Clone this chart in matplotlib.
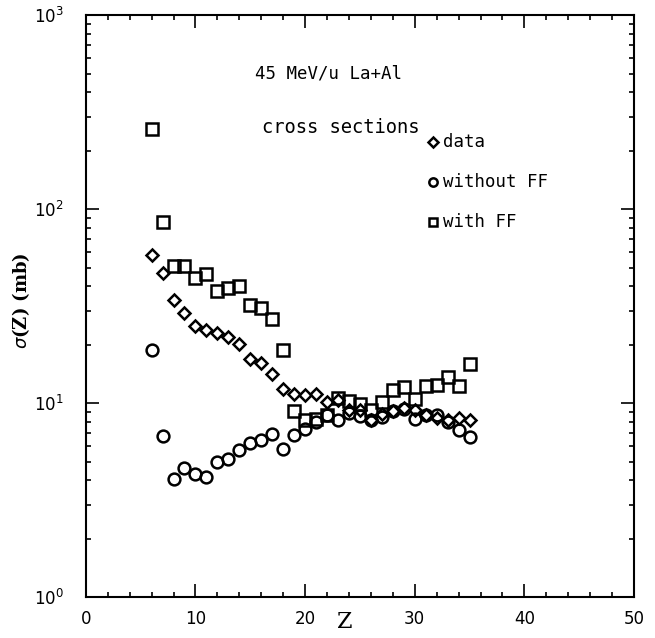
# Fragment cross sections, 45 MeV/u La+Al
import numpy as np
import matplotlib
matplotlib.use("Agg")
import matplotlib.pyplot as plt
from matplotlib.ticker import MultipleLocator, LogLocator

# charge of fragment
Z = np.arange(6, 36)

# measured cross sections (mb)
sig_data = [57.8, 47.1, 34.0, 29.1, 24.9, 23.9, 23.0, 21.9, 20.1, 17.0,
            16.1, 14.1, 11.9, 11.1, 11.0, 11.1, 10.2, 10.4, 9.2, 9.2,
            8.2, 8.8, 9.1, 9.5, 9.2, 8.7, 8.4, 8.2, 8.4, 8.2]

# calculation without fission fragments
sig_noff = [18.7, 6.8, 4.06, 4.62, 4.34, 4.17, 4.97, 5.14, 5.77, 6.25,
            6.46, 6.92, 5.84, 6.88, 7.36, 7.98, 8.65, 8.22, 8.91, 8.58,
            8.15, 8.53, 9.12, 9.33, 8.25, 8.73, 8.71, 7.99, 7.25, 6.73]

# calculation with fission fragments
sig_ff = [258, 86.2, 51.0, 50.8, 44.0, 46.5, 37.9, 39.2, 40.0, 32.2,
          31.0, 27.1, 18.9, 9.15, 8.2, 8.3, 8.7, 10.7, 10.3, 9.9,
          9.2, 10.2, 11.7, 12.1, 10.5, 12.2, 12.4, 13.6, 12.2, 16.0]

fig = plt.figure(figsize=(6.55, 6.38), dpi=100)
ax = fig.add_axes([0.131, 0.064, 0.837, 0.912])

mk = dict(linestyle="none", markerfacecolor="none", markeredgecolor="black",
          markeredgewidth=1.8)
ax.plot(Z, sig_ff, marker="s", markersize=8.5, **mk)
ax.plot(Z, sig_noff, marker="o", markersize=8.5, **mk)
ax.plot(Z, sig_data, marker="D", markersize=6.5, **mk)

ax.set_yscale("log")
ax.set_xlim(0, 50)
ax.set_ylim(1, 1000)

ax.xaxis.set_major_locator(MultipleLocator(10))
ax.xaxis.set_minor_locator(MultipleLocator(2))
ax.yaxis.set_major_locator(LogLocator(base=10))
ax.yaxis.set_minor_locator(LogLocator(base=10, subs=np.arange(2, 10)))

ax.tick_params(which="both", direction="in", top=True, right=True,
               width=1.2, labelsize=12)
ax.tick_params(which="major", length=9.5)
ax.tick_params(which="minor", length=3.5)
ax.tick_params(axis="x", pad=9)
ax.tick_params(axis="y", pad=16)
for s in ax.spines.values():
    s.set_linewidth(1.5)

ax.set_xlabel("Z", fontsize=16, family="DejaVu Serif")
ax.xaxis.set_label_coords(0.473, -0.024)
ax.set_ylabel(r"$\sigma$(Z) (mb)", fontsize=13, family="DejaVu Serif",
              fontweight="bold")
ax.yaxis.set_label_coords(-0.098, 0.51)

mono = "DejaVu Sans Mono"
ax.text(15.4, 500, "45 MeV/u La+Al", fontsize=12.5, va="center", family=mono)
ax.text(16.1, 264, "cross sections", fontsize=13.5, va="center", family=mono)

ax.plot([31.7], [221], marker="D", markersize=5, **mk)
ax.plot([31.7], [138], marker="o", markersize=6, **mk)
ax.plot([31.7], [85.7], marker="s", markersize=6, **mk)
ax.text(32.6, 221, "data", fontsize=12.5, va="center", family=mono)
ax.text(32.6, 138, "without FF", fontsize=12.5, va="center", family=mono)
ax.text(32.6, 85.7, "with FF", fontsize=12.5, va="center", family=mono)

fig.savefig("out.png", dpi=100)
